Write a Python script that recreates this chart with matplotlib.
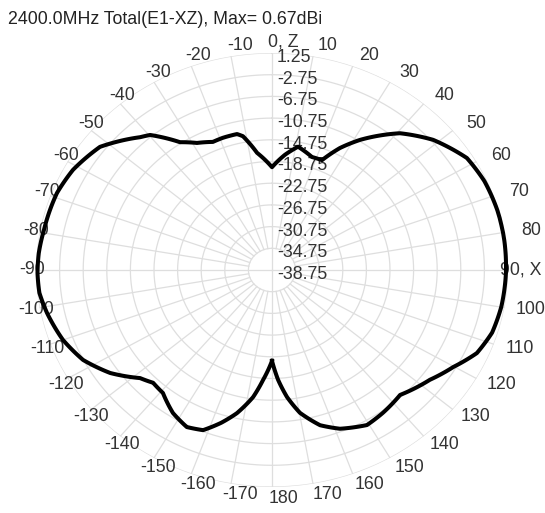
import matplotlib
matplotlib.use("Agg")
import matplotlib.pyplot as plt
import matplotlib.transforms as mtransforms
import numpy as np

plt.rcParams['font.family'] = ['Liberation Sans', 'DejaVu Sans']

TITLE = '2400.0MHz Total(E1-XZ), Max= 0.67dBi'

# pattern: angle (deg, + = towards X, clockwise from Z) and gain (dBi)
angle_deg = [-180, -175.7, -172.2, -167.3, -163, -158.4, -153.5, -147.5, -140.8,
             -135.9, -131.7, -124.7, -117.4, -110.0, -101.7, -96.1, -90.8, -85.5,
             -79.2, -68.7, -61.3, -52.1, -42.4, -39.7, -33.5, -28.5, -23.0, -18.9,
             -13.3, -11.3, -6.7, 0, 5.9, 11.0, 18.0, 22.7, 27.1, 31.9, 40.7, 48.7,
             58.0, 65.5, 74.0, 82.1, 90.8, 99.9, 107.2, 113.8, 120.2, 127.1, 136.7,
             144.5, 150.6, 158.5, 164.1, 169.8, 173.8, 177.1, 180]
gain_db = [-22.0, -18.4, -15.1, -11.7, -9.3, -7.0, -6.4, -7.5, -9.5,
           -9.8, -8.8, -5.4, -2.7, -1.05, 0.2, 0.9, 1.0, 0.9,
           0.6, 0.36, -0.3, -1.8, -5.6, -6.4, -10.5, -12.1, -13.1, -13.0,
           -13.0, -13.6, -17.0, -19.8, -17.4, -15.6, -16.85, -16.8, -13.5, -10.5, -5.5, -2.4,
           0.2, 0.8, 1.0, 1.0, 0.9, 0.7, 0.3, -0.8, -3.2, -5.2, -7.1,
           -6.4, -5.95, -7.3, -9.0, -12.0, -15.2, -18.5, -22.0]

ring_vals = [-34.75, -30.75, -26.75, -22.75, -18.75, -14.75, -10.75, -6.75, -2.75, 1.25]
ring_labels = ['1.25', '-2.75', '-6.75', '-10.75', '-14.75', '-18.75', '-22.75',
               '-26.75', '-30.75', '-34.75', '-38.75']
spoke_angles = list(range(-170, 190, 10))

RMIN, RMAX = -38.75, 1.25
GRID = '#dedede'
TXT = '#333333'
FS = 12.8

fig = plt.figure(figsize=(5.45, 5.13), dpi=100)
fig.patch.set_facecolor('white')
ax = fig.add_axes([36 / 545, 26 / 513, 472 / 545, 434 / 513], projection='polar')
ax.set_theta_zero_location('N')
ax.set_theta_direction(-1)
ax.set_ylim(RMIN, RMAX)
ax.set_aspect('auto')
ax.set_xticks([])
ax.set_yticks([])
ax.grid(False)
ax.spines['polar'].set_visible(False)

# rings
full = np.linspace(0, 2 * np.pi, 361)
for r in ring_vals:
    ax.plot(full, np.full_like(full, r), color=GRID, lw=0.9, zorder=1)

# spokes (main axes through the centre, the rest stop at the first ring)
for a in spoke_angles:
    start = RMIN if a % 90 == 0 else ring_vals[0]
    ax.plot([np.radians(a)] * 2, [start, RMAX], color=GRID, lw=0.9, zorder=1)

# radial labels along the Z axis
off = mtransforms.offset_copy(ax.transData, fig=fig, x=5, y=-4.5, units='dots')
for r, s in zip(np.arange(RMAX, RMIN - 0.1, -4.0), ring_labels):
    ax.text(0, r, s, transform=off, ha='left', va='center', fontsize=FS,
            color=TXT, zorder=3)

# angle labels
for a in spoke_angles:
    t = np.radians(a)
    if a == 0:
        s = '0, Z'
    elif a == 90:
        s = '90, X'
    else:
        s = str(a)
    if a == 90:
        x = 0.5 + 0.5 * 0.965
        ha = 'left'
    else:
        x = 0.5 + 0.5 * (0.049 + 1.064 * np.sin(t))
        ha = 'center'
    y = 0.5 + 0.5 * 1.051 * np.cos(t)
    ax.text(x, y, s, transform=ax.transAxes, ha=ha, va='center', fontsize=FS,
            color=TXT, zorder=3, clip_on=False)

# pattern (segments follow the polar arcs between read points)
line, = ax.plot(np.radians(angle_deg), gain_db, color='black', lw=2.9, zorder=5,
                clip_on=False, solid_joinstyle='round')
line.get_path()._interpolation_steps = 24

fig.text(8 / 545, 1 - 20 / 513, TITLE, ha='left', va='center', fontsize=FS,
         color='#222222')

fig.savefig('out.png', dpi=100, facecolor='white')
